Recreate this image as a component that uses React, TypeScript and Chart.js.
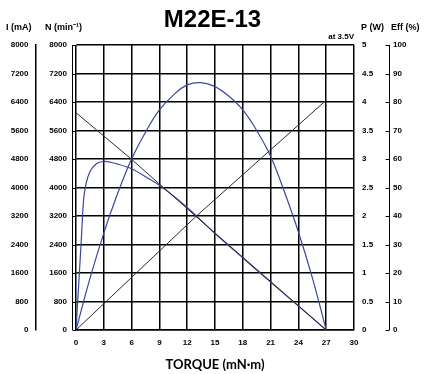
import React, { useEffect, useRef } from 'react';
import { Chart, registerables } from 'chart.js';

Chart.register(...registerables);

// Torque axis (mN·m)
const torqueTicks = [0, 3, 6, 9, 12, 15, 18, 21, 24, 27, 30];

// Speed N (min^-1)
const speedTorque = [0, 6, 12.9, 27];
const speedValues = [6100, 4790, 3200, 0];

// Current I (mA)
const currentTorque = [0, 13, 27];
const currentValues = [0, 3200, 6450];

// Output power P (W)
const powerTorque = [0, 1.5, 3, 4.5, 6, 7.5, 9, 10.5, 12, 13.5, 15, 16.5, 18, 19.5, 21, 22.5, 24, 25.5, 27];
const powerValues = [0, 0.9, 1.7, 2.4, 3.0, 3.47, 3.86, 4.12, 4.3, 4.34, 4.27, 4.1, 3.86, 3.5, 3.05, 2.42, 1.72, 0.92, 0];

// Efficiency Eff (%)
const effTorque = [0, 0.57, 0.8, 1.1, 1.5, 2.2, 3.1, 4.5, 6, 8, 9, 12, 15, 18, 21, 24, 27];
const effValues = [0, 31.5, 45, 51.5, 55.5, 58.3, 59.2, 58.2, 56.6, 52.8, 50.8, 43, 33.8, 25.3, 16.8, 8.4, 0];

const title = 'M22E-13';
const xTitle = 'TORQUE (mN·m)';
const labelI = 'I (mA)';
const labelN = 'N (min⁻¹)';
const labelP = 'P (W)';
const labelE = 'Eff (%)';
const voltageNote = 'at 3.5V';

const toPoints = (xs: number[], ys: number[]) => xs.map((x, i) => ({ x, y: ys[i] }));
const fmt = (v: any) => String(Math.round(Number(v) * 100) / 100);

const BLUE = '#3c46a0';
const DARK = '#2a2a2a';
const FONT = '"Liberation Sans", Arial, sans-serif';

const extras = {
  id: 'extras',
  afterDraw(chart: any) {
    const { ctx, chartArea, scales } = chart;
    const yI = scales.yI;
    const yE = scales.yE;
    ctx.save();
    ctx.strokeStyle = '#000';
    ctx.lineWidth = 1;
    // I bracket
    const bx = Math.round(yI.right - 4) + 0.5;
    ctx.beginPath();
    ctx.moveTo(bx, yI.getPixelForValue(8000));
    ctx.lineTo(bx, yI.getPixelForValue(0));
    yI.ticks.forEach((t: any) => {
      const y = Math.round(yI.getPixelForValue(t.value)) + 0.5;
      ctx.moveTo(bx, y);
      ctx.lineTo(bx + 4, y);
    });
    // Eff bracket
    const ex = Math.round(yE.left + 4) + 0.5;
    ctx.moveTo(ex, yE.getPixelForValue(100));
    ctx.lineTo(ex, yE.getPixelForValue(0));
    yE.ticks.forEach((t: any) => {
      const y = Math.round(yE.getPixelForValue(t.value)) + 0.5;
      ctx.moveTo(ex, y);
      ctx.lineTo(ex - 4, y);
    });
    ctx.stroke();

    ctx.fillStyle = '#000';
    ctx.textBaseline = 'middle';
    ctx.font = `bold 9px ${FONT}`;
    ctx.textAlign = 'left';
    ctx.fillText(labelI, 6, 28);
    ctx.fillText(labelN, 45, 28);
    ctx.fillText(labelP, 361, 28);
    ctx.fillText(labelE, 391, 28);
    ctx.font = `bold 8px ${FONT}`;
    ctx.textAlign = 'right';
    ctx.fillText(voltageNote, chartArea.right, 37);
    ctx.restore();
  },
};

export default function App() {
  const ref = useRef<HTMLCanvasElement>(null);
  useEffect(() => {
    if (!ref.current) return;
    const tickFont = { family: FONT, size: 8, weight: 'bold' as const };
    const chart = new Chart(ref.current, {
      type: 'line',
      data: {
        datasets: [
          {
            label: 'N',
            data: toPoints(speedTorque, speedValues),
            yAxisID: 'yN',
            borderColor: DARK,
            borderWidth: 1,
            pointRadius: 0,
            tension: 0,
          },
          {
            label: 'I',
            data: toPoints(currentTorque, currentValues),
            yAxisID: 'yI',
            borderColor: DARK,
            borderWidth: 1,
            pointRadius: 0,
            tension: 0,
          },
          {
            label: 'P',
            data: toPoints(powerTorque, powerValues),
            yAxisID: 'yP',
            borderColor: BLUE,
            borderWidth: 1.2,
            pointRadius: 0,
            tension: 0.4,
          },
          {
            label: 'Eff',
            data: toPoints(effTorque, effValues),
            yAxisID: 'yE',
            borderColor: BLUE,
            borderWidth: 1.2,
            pointRadius: 0,
            cubicInterpolationMode: 'monotone',
          },
        ],
      },
      options: {
        responsive: false,
        animation: false,
        events: [],
        layout: { padding: 0 },
        plugins: {
          legend: { display: false },
          tooltip: { enabled: false },
          title: {
            display: true,
            text: title,
            color: '#000',
            font: { family: FONT, size: 24, weight: 'bold', lineHeight: 1.2 },
            padding: { top: 6, bottom: 10.2 },
          },
        },
        scales: {
          x: {
            type: 'linear',
            min: 0,
            max: 30,
            afterBuildTicks: (s: any) => {
              s.ticks = torqueTicks.map((v) => ({ value: v }));
            },
            afterFit: (s: any) => {
              s.height = 44;
            },
            ticks: {
              color: '#000',
              font: tickFont,
              padding: 8,
              maxRotation: 0,
              callback: fmt,
            },
            grid: { color: '#000', lineWidth: 1.5, drawTicks: false },
            border: { display: true, color: '#000', width: 1.5 },
            title: {
              display: true,
              text: xTitle,
              color: '#000',
              font: { family: 'Lato, "Open Sans", sans-serif', size: 13, weight: 'bold', lineHeight: 1.2 },
              padding: { top: 0, bottom: 1 },
            },
          },
          yI: {
            type: 'linear',
            position: 'left',
            min: 0,
            max: 8000,
            ticks: { stepSize: 800, color: '#000', font: tickFont, padding: 9, callback: fmt },
            grid: { display: false, drawTicks: false },
            border: { display: false },
            afterFit: (s: any) => {
              s.width = 40;
            },
          },
          yN: {
            type: 'linear',
            position: 'left',
            min: 0,
            max: 8000,
            ticks: { stepSize: 800, color: '#000', font: tickFont, padding: 7.5, callback: fmt },
            grid: { color: '#000', lineWidth: 1.5, drawTicks: false },
            border: { display: true, color: '#000', width: 1.5 },
            afterFit: (s: any) => {
              s.width = 36;
            },
          },
          yP: {
            type: 'linear',
            position: 'right',
            min: 0,
            max: 5,
            ticks: { stepSize: 0.5, color: '#000', font: tickFont, padding: 8, callback: fmt },
            grid: { display: false, drawTicks: false },
            border: { display: false },
            afterFit: (s: any) => {
              s.width = 31;
            },
          },
          yE: {
            type: 'linear',
            position: 'right',
            min: 0,
            max: 100,
            ticks: { stepSize: 10, color: '#000', font: tickFont, padding: 8, callback: fmt },
            grid: { display: false, drawTicks: false },
            border: { display: false },
            afterFit: (s: any) => {
              s.width = 40;
            },
          },
        },
      } as any,
      plugins: [extras],
    });
    return () => chart.destroy();
  }, []);

  return (
    <div style={{ position: 'fixed', left: 0, top: 0, width: 425, height: 374, background: '#fff' }}>
      <canvas ref={ref} width={425} height={374} style={{ display: 'block', width: 425, height: 374 }} />
    </div>
  );
}
